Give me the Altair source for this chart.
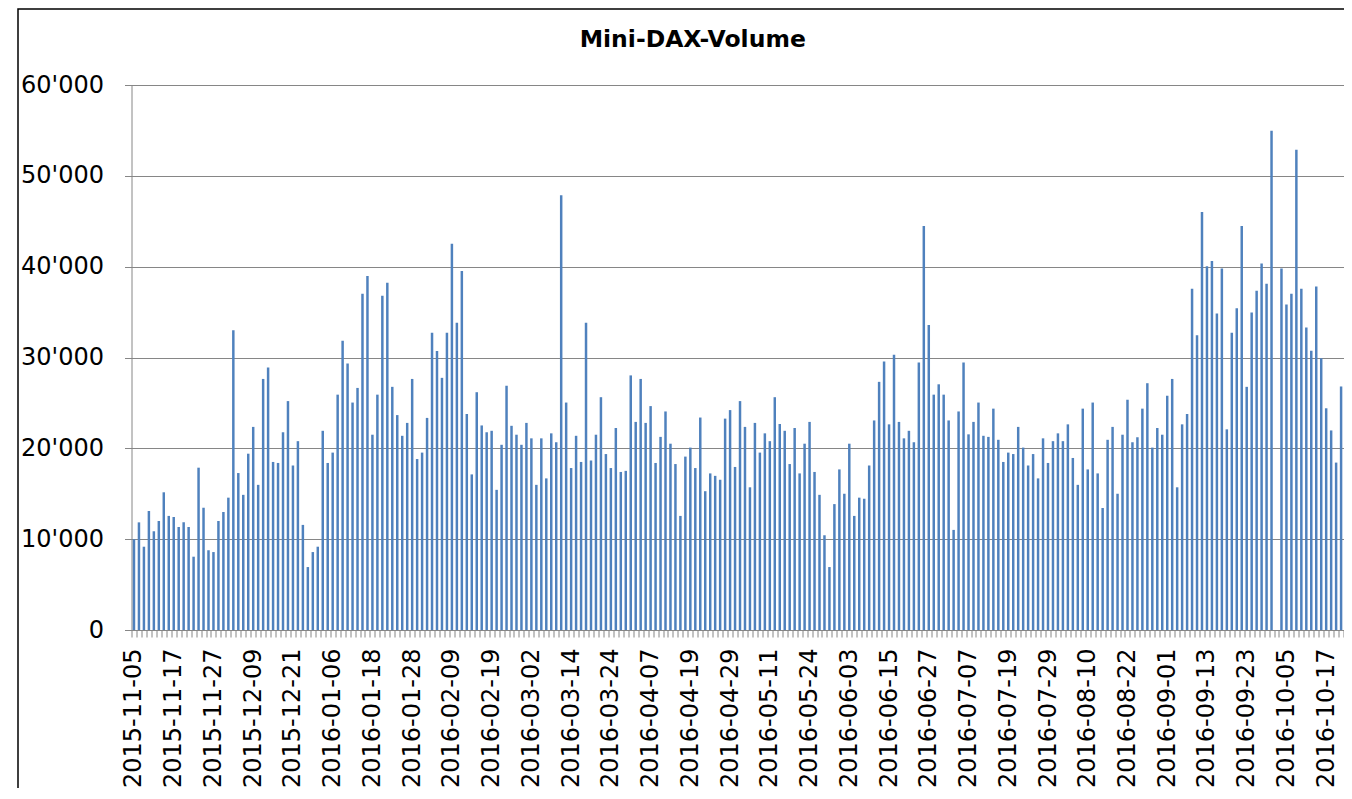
import json
import altair as alt
import pandas as pd

TITLE = "Mini-DAX-Volume"
START = "2015-11-05"
END = "2016-10-24"
HOLIDAYS = ["2015-12-24", "2015-12-25", "2015-12-31", "2016-01-01",
            "2016-03-25", "2016-03-28", "2016-05-16"]

TICK_LABELS = [
    "2015-11-05", "2015-11-17", "2015-11-27", "2015-12-09", "2015-12-21",
    "2016-01-06", "2016-01-18", "2016-01-28", "2016-02-09", "2016-02-19",
    "2016-03-02", "2016-03-14", "2016-03-24", "2016-04-07", "2016-04-19",
    "2016-04-29", "2016-05-11", "2016-05-24", "2016-06-03", "2016-06-15",
    "2016-06-27", "2016-07-07", "2016-07-19", "2016-07-29", "2016-08-10",
    "2016-08-22", "2016-09-01", "2016-09-13", "2016-09-23", "2016-10-05",
    "2016-10-17",
]
Y_TICKS = [0, 10000, 20000, 30000, 40000, 50000, 60000]

VOLUMES = [
    10000, 11850, 9170, 13100, 10870, 12000, 15160, 12560, 12440, 11340,
    11850, 11340, 8070, 17870, 13460, 8780, 8580, 12000, 12990, 14570,
    32990, 17280, 14880, 19410, 22360, 15980, 27640, 28900, 18500, 18390,
    21770, 25200, 18110, 20790, 11570, 6930, 8580, 9170, 21930, 18390,
    19530, 25910, 31850, 29330, 25040, 26650, 37010, 38980, 21500, 25910,
    36810, 38230, 26770, 23660, 21380, 22800, 27640, 18820, 19530, 23350,
    32720, 30710, 27760, 32720, 42520, 33820, 39530, 23780, 17130, 26180,
    22520, 21770, 21930, 15430, 20390, 26890, 22480, 21500, 20390, 22800,
    21100, 15980, 21100, 16690, 21650, 20670, 47870, 25040, 17830, 21380,
    18500, 33820, 18660, 21500, 25630, 19370, 17830, 22240, 17400, 17520,
    28030, 22910, 27640, 22800, 24650, 18390, 21260, 24060, 20510, 18270,
    12560, 19090, 20080, 17830, 23390, 15280, 17240, 16970, 16540, 23270,
    24210, 17950, 25200, 22360, 15710, 22800, 19530, 21650, 20790, 25630,
    22680, 21930, 18270, 22240, 17240, 20510, 22910, 17400, 14880, 10430,
    6930, 13860, 17680, 15000, 20510, 12560, 14570, 14450, 18110, 23070,
    27320, 29570, 22640, 30310, 22910, 21100, 21930, 20670, 29450, 44490,
    33580, 25910, 27050, 25910, 23070, 11020, 24060, 29450, 21540, 22910,
    25040, 21380, 21260, 24370, 20940, 18500, 19530, 19370, 22360, 20080,
    18110, 19370, 16690, 21100, 18390, 20790, 21650, 20790, 22640, 18940,
    15980, 24370, 17680, 25040, 17240, 13430, 20940, 22360, 15000, 21500,
    25350, 20670, 21220, 24370, 27170, 20080, 22240, 21500, 25790, 27640,
    15710, 22640, 23780, 37560, 32440, 46020, 40040, 40630, 34840, 39800,
    22090, 32720, 35430, 44490, 26770, 34960, 37360, 40350, 38110, 54960,
    0, 39800, 35830, 37010, 52870, 37560, 33310, 30750, 37830, 29920,
    24410, 21970, 18430, 26810, 18310, 19610,
]

days = [d.strftime("%Y-%m-%d") for d in pd.bdate_range(START, END)]
days = [d for d in days if d not in HOLIDAYS]
df = pd.DataFrame({"date": days, "volume": VOLUMES})

FONT = "DejaVu Sans"
GREY = "#868686"
BLUE = "#4F81BD"

label_expr = "indexof(%s, datum.value) >= 0 ? datum.value : ''" % json.dumps(TICK_LABELS)

bars = alt.Chart(df).mark_bar(color=BLUE, width=alt.RelativeBandSize(0.5)).encode(
    x=alt.X(
        "date:N", sort=None, title=None,
        scale=alt.Scale(range=[0, 1222], paddingInner=0, paddingOuter=0),
        axis=alt.Axis(
            labelExpr=label_expr, labelAngle=-90, labelFont=FONT, labelFontSize=24,
            labelColor="black", labelOverlap=False, labelPadding=11,
            tickBand="extent", tickSize=7, tickColor=GREY, domainColor=GREY,
            grid=False,
        ),
    ),
    y=alt.Y(
        "volume:Q", title=None,
        scale=alt.Scale(domain=[0, 60000]),
        axis=alt.Axis(
            values=Y_TICKS,
            labelExpr="replace(format(datum.value, ','), ',', \"'\")",
            labelFont=FONT, labelFontSize=24, labelColor="black", labelPadding=21,
            tickSize=7, tickColor=GREY, domainColor=GREY, gridColor=GREY,
        ),
    ),
)

border = alt.Chart(alt.Data(values=[{}])).mark_rect(
    filled=False, stroke="black", strokeWidth=1.5
).encode(
    x=alt.value(-113.5), x2=alt.value(1400), y=alt.value(-76), y2=alt.value(800)
)

chart = alt.layer(bars, border).properties(
    width=1212.5,
    height=545,
    autosize="none",
    padding={"left": 123.5, "top": 77, "right": 0, "bottom": 158},
    title=alt.TitleParams(
        TITLE, font=FONT, fontSize=23.5, fontWeight="bold", color="black",
        anchor="middle", dx=-45, offset=-55, baseline="middle",
    ),
).configure_view(strokeWidth=0)

chart.save("out.html", embed_options={"renderer": "svg", "actions": False})
